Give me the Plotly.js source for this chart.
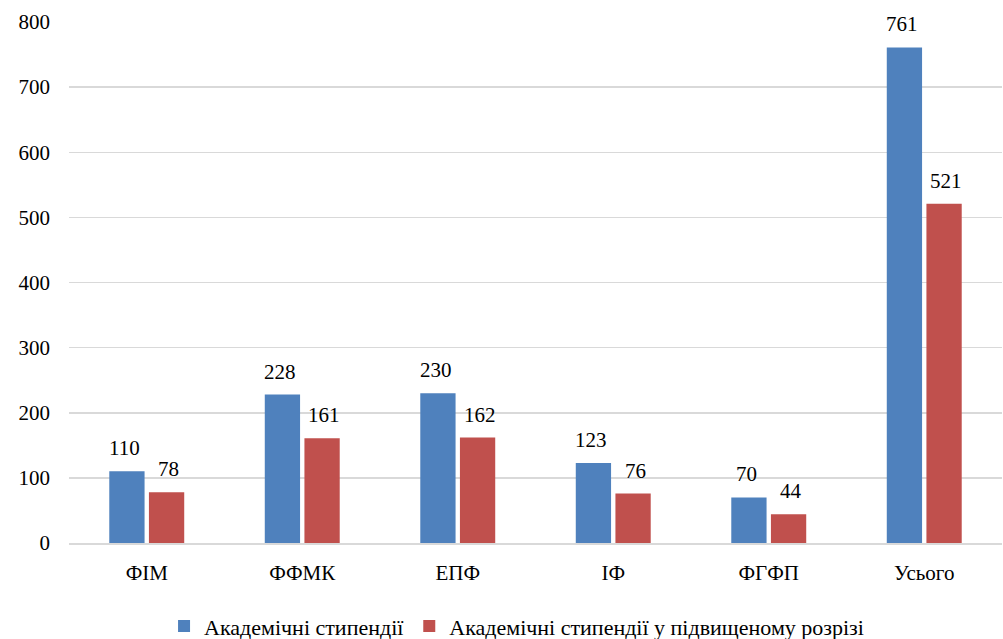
<!DOCTYPE html>
<html>
<head>
<meta charset="utf-8">
<script src="https://cdn.plot.ly/plotly-3.0.1.min.js"></script>
<style>html,body{margin:0;padding:0;background:#fff;}#chart{width:1003px;height:639px;}</style>
</head>
<body>
<div id="chart"></div>
<script>
const categories = ["ФІМ", "ФФМК", "ЕПФ", "ІФ", "ФГФП", "Усього"];
const academic = [110, 228, 230, 123, 70, 761];
const academicIncreased = [78, 161, 162, 76, 44, 521];
const seriesNames = ["Академічні стипендії", "Академічні стипендії у підвищеному розрізі"];
const yTicks = [0, 100, 200, 300, 400, 500, 600, 700, 800];

const font = "Times New Roman, Liberation Serif, DejaVu Serif, serif";
const traces = [
  {type: "bar", x: categories, y: academic, name: seriesNames[0],
   marker: {color: "#4F81BD"}},
  {type: "bar", x: categories, y: academicIncreased, name: seriesNames[1],
   marker: {color: "#C0504D"}}
];
const annotations = [];
[academic, academicIncreased].forEach((vals, s) => {
  vals.forEach((v, i) => {
    annotations.push({x: categories[i], y: v, xref: "x", yref: "y", text: String(v),
      showarrow: false, yanchor: "bottom", xshift: s === 0 ? -22 : 22, yshift: 9,
      font: {family: font, size: 21, color: "#000"}});
  });
});
const layout = {
  width: 1003, height: 639,
  margin: {l: 69, r: 1, t: 22, b: 96},
  paper_bgcolor: "#fff", plot_bgcolor: "#fff",
  font: {family: font, size: 21, color: "#000"},
  barmode: "group", bargap: 0.49, bargroupgap: 0.11,
  showlegend: true,
  annotations: annotations,
  legend: {orientation: "h", x: 0.515, xanchor: "center", xref: "container",
           y: 0.02, yanchor: "middle", yref: "container",
           font: {family: font, size: 22, color: "#000"}, traceorder: "normal"},
  xaxis: {showgrid: false, showline: true, linecolor: "#d9d9d9", linewidth: 1.5,
          ticks: "", tickfont: {family: font, size: 21}, ticklen: 0, zeroline: false,
          ticklabelstandoff: 10, automargin: false},
  yaxis: {range: [0, 800], tickvals: yTicks, ticktext: yTicks.map(String),
          showgrid: true, gridcolor: "#d9d9d9", gridwidth: 1.5, zeroline: false,
          showline: false, ticks: "", ticklabelstandoff: 18, automargin: false,
          tickfont: {family: font, size: 21}}
};
Plotly.newPlot("chart", traces, layout, {displayModeBar: false, staticPlot: true});
</script>
</body>
</html>
